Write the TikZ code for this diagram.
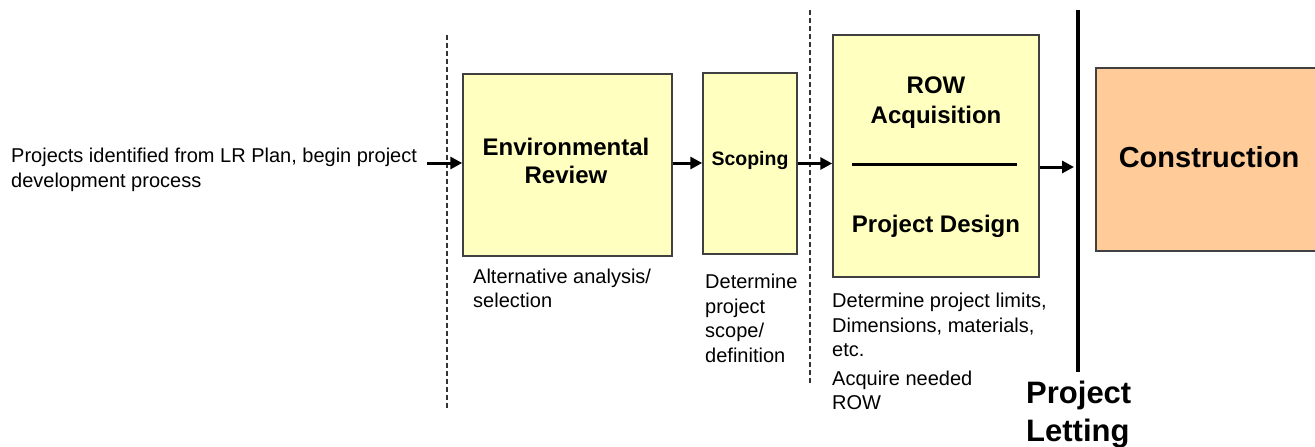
\documentclass[tikz,border=0pt]{standalone}
\usepackage{fontspec}
\setmainfont{Liberation Sans}
\usetikzlibrary{arrows.meta,positioning}

\definecolor{stagefill}{RGB}{255,255,192}
\definecolor{buildfill}{RGB}{255,204,153}
\definecolor{edgegray}{RGB}{64,64,64}

\begin{document}
\begin{tikzpicture}[x=1pt, y=-1pt,
  stage/.style={draw=edgegray, line width=1.5pt, fill=stagefill, inner sep=0pt},
  title/.style={align=center, inner sep=0pt, font=\fontsize{24}{28}\selectfont\bfseries},
  note/.style={anchor=north west, inner sep=0pt, align=left, font=\fontsize{20}{24.5}\selectfont},
  flow/.style={line width=3pt, -{Triangle[length=12pt,width=12pt]}},
  divider/.style={draw=black!80, line width=1.2pt, dash pattern=on 5pt off 3pt}]
\useasboundingbox (0,0) rectangle (1315,447);

% phase dividers
\coordinate (cut1top) at (447,35);
\coordinate (cut1bot) at (447,408);
\coordinate (cut2top) at (810,10);
\coordinate (cut2bot) at (810,385);
\draw[divider] (cut1top) -- (cut1bot);
\draw[divider] (cut2top) -- (cut2bot);

% stages
\node[stage, minimum width=209pt, minimum height=182pt] (env) at (567.5,165) {};
\node[title] (envtxt) at (566,160.5) {Environmental\\Review};
\node[stage, minimum width=94pt, minimum height=181pt] (scope) at (750,163.5) {};
\node[title, font=\fontsize{19.5}{24}\selectfont\bfseries] (scopetxt) at (750,160) {Scoping};
\node[stage, minimum width=206pt, minimum height=242pt] (row) at (936,156) {};
\node[title, font=\fontsize{24}{30}\selectfont\bfseries] (rowtxt) at (936,103) {ROW\\Acquisition};
\draw[line width=3pt] (852,164) -- (1017,164);
\node[title] (design) at (936,226.5) {Project Design};
\node[stage, fill=buildfill, minimum width=234pt, minimum height=183pt] (build) at (1213,159.5) {};
\node[title, font=\fontsize{29}{34}\selectfont\bfseries] (buildtxt) at (1209,157.5) {Construction};

% project letting
\coordinate (lettop) at (1078,10);
\coordinate (letbot) at (1078,372);
\draw[line width=4pt] (lettop) -- (letbot);
\node[note, font=\fontsize{31}{38}\selectfont\bfseries] (letting) at (1026,381) {Project\\Letting};

% notes
\node[note, font=\fontsize{20}{25}\selectfont] (start) at (11,148) {Projects identified from LR Plan, begin project\\development process};
\node[note, font=\fontsize{20}{24}\selectfont] (altnote) at (473,269) {Alternative analysis/\\selection};
\node[note] (scopenote) at (705,274) {Determine\\project\\scope/\\definition};
\node[note] (limitnote) at (832,293) {Determine project limits,\\Dimensions, materials,\\etc.};
\node[note, font=\fontsize{20}{23.5}\selectfont] (acqnote) at (832,371) {Acquire needed\\ROW};

% flow
\coordinate (feed) at (427,163);
\draw[flow] (feed) -- (env.west |- feed);
\draw[flow] (env.east |- feed) -- (scope.west |- feed);
\draw[flow] (scope.east) -- (scope.east -| row.west);
\draw[flow, shorten >=4pt] (row.east |- 0,167) -- (lettop |- 0,167);
\end{tikzpicture}
\end{document}
